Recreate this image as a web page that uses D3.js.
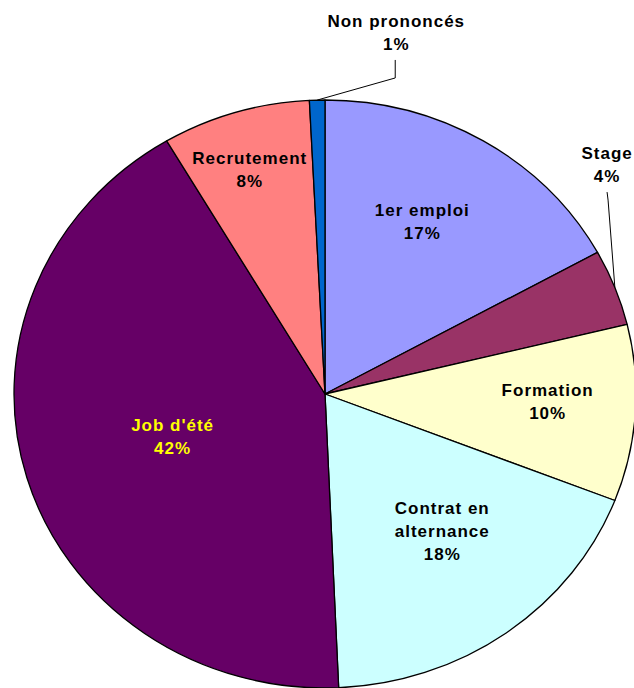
<!DOCTYPE html>
<html>
<head>
<meta charset="utf-8">
<script src="https://cdn.jsdelivr.net/npm/d3@7"></script>
<style>
  body { margin: 0; background: #fff; }
  text { font-family: "Liberation Sans", Arial, sans-serif; font-weight: bold; font-size: 17px; letter-spacing: 1px; }
</style>
</head>
<body>
<svg id="chart" width="634" height="688"></svg>
<script>
// data (share of answers, %)
var categories = ["1er emploi", "Stage", "Formation", "Contrat en alternance", "Job d'été", "Recrutement", "Non prononcés"];
var values = [17.0, 4.2, 9.7, 18.4, 42.2, 7.7, 0.8];
var colors = ["#9999FF", "#993366", "#FFFFCC", "#CCFFFF", "#660066", "#FF8080", "#0066CC"];

// label lines (text split), label colour
var labelLines = [["1er emploi"], ["Stage"], ["Formation"], ["Contrat en", "alternance"], ["Job d'été"], ["Recrutement"], ["Non prononcés"]];
var labelColors = ["#000", "#000", "#000", "#000", "#FFFF00", "#000", "#000"];
// label centres, in units of the radii
var labelPos = [[0.313, -0.588], [0.907, -0.782], [0.716, 0.027], [0.377, 0.466], [-0.490, 0.146], [-0.242, -0.765], [0.229, -1.228]];

var cx = 325, cy = 394, rx = 311, ry = 294;

var svg = d3.select("#chart");

var pie = d3.pie().sort(null).value(function(d) { return d; });
var arcs = pie(values);
var total = d3.sum(values);

var arc = d3.arc().innerRadius(0).outerRadius(rx);

var g = svg.append("g")
    .attr("transform", "translate(" + cx + "," + cy + ") scale(1," + (ry / rx) + ")");

g.selectAll("path")
  .data(arcs)
  .enter()
  .append("path")
  .attr("d", arc)
  .attr("fill", function(d, i) { return colors[i]; })
  .attr("stroke", "#000")
  .attr("stroke-width", 1.3)
  .attr("vector-effect", "non-scaling-stroke")
  .attr("stroke-linejoin", "round");

// point on the rim at the middle of a slice
function rimPoint(d) {
  var a = (d.startAngle + d.endAngle) / 2;
  return [cx + rx * Math.sin(a), cy - ry * Math.cos(a)];
}

var lineH = 23;

arcs.forEach(function(d, i) {
  var lines = labelLines[i].concat([Math.round(d.value / total * 100) + "%"]);
  var lx = cx + labelPos[i][0] * rx;
  var ly = cy + labelPos[i][1] * ry;
  var top = ly - (lines.length - 1) * lineH / 2;

  var t = svg.append("text")
    .attr("text-anchor", "middle")
    .attr("fill", labelColors[i]);
  lines.forEach(function(s, k) {
    t.append("tspan")
      .attr("x", lx)
      .attr("y", top + k * lineH + 6)
      .text(s);
  });
});

// leader lines for the two small outside labels
var leader = d3.line();
function addLeader(i, pts) {
  var p = rimPoint(arcs[i]);
  svg.append("path")
    .attr("d", leader(pts.concat([p])))
    .attr("fill", "none")
    .attr("stroke", "#000")
    .attr("stroke-width", 1);
}
var nx = cx + labelPos[6][0] * rx, ny = cy + labelPos[6][1] * ry;
addLeader(6, [[nx - 1, ny + 27], [nx - 1, ny + 45]]);
var sx = cx + labelPos[1][0] * rx, sy = cy + labelPos[1][1] * ry;
addLeader(1, [[sx, sy + 28], [sx + 1, sy + 36]]);
</script>
</body>
</html>
